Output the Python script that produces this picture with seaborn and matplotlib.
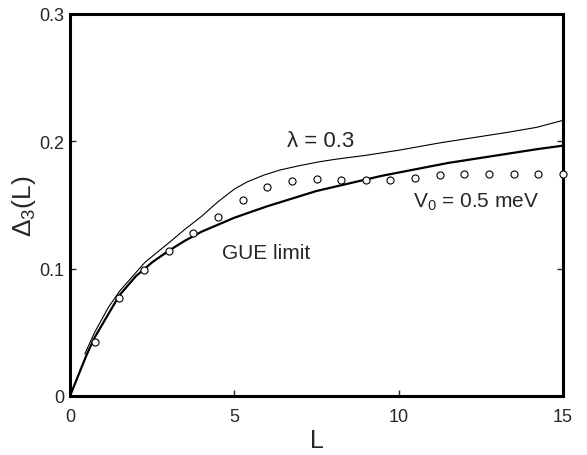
import numpy as np
import pandas as pd
import matplotlib
matplotlib.use("Agg")
import matplotlib.pyplot as plt
import seaborn as sns

# GUE limit (thick line)
gue_L = [0, 0.25, 0.5, 0.75, 1.0, 1.5, 2.0, 2.5, 3.0, 3.5, 4.0, 5.0, 6.0, 6.5, 7.5, 8.5, 9.5, 10.5, 11.5, 12.5, 13.5, 14.25, 15.0]
gue_D = [0, 0.016, 0.032, 0.046, 0.057, 0.079, 0.094, 0.105, 0.114, 0.122, 0.129, 0.140, 0.149, 0.153, 0.161, 0.167, 0.173, 0.178, 0.183, 0.187, 0.191, 0.194, 0.1966]

# lambda = 0.3 (thin line)
lam_L = [0.45, 0.75, 1.17, 1.52, 2.28, 3.04, 3.5, 4.0, 4.5, 5.0, 5.38, 5.9, 6.39, 7.0, 7.6, 8.1, 9.0, 10.0, 11.3, 12.3, 13.3, 14.2, 15.0]
lam_D = [0.033, 0.050, 0.0697, 0.0827, 0.105, 0.121, 0.131, 0.141, 0.1525, 0.1625, 0.168, 0.1735, 0.1775, 0.181, 0.184, 0.186, 0.189, 0.193, 0.199, 0.203, 0.207, 0.211, 0.2165]

# V0 = 0.5 meV (open circles)
v0_L = [0.75, 1.5, 2.25, 3.0, 3.75, 4.5, 5.25, 6.0, 6.75, 7.5, 8.25, 9.0, 9.75, 10.5, 11.25, 12.0, 12.75, 13.5, 14.25, 15.0]
v0_D = [0.0427, 0.0767, 0.0987, 0.1137, 0.128, 0.1405, 0.154, 0.164, 0.169, 0.1705, 0.170, 0.1697, 0.170, 0.1712, 0.1735, 0.1745, 0.1745, 0.1745, 0.1745, 0.1744]

x_ticks = [0, 5, 10, 15]
y_ticks = [0, 0.1, 0.2, 0.3]
y_tick_labels = ["0", "0.1", "0.2", "0.3"]

sns.set_style("white")
plt.rcParams['font.family'] = ['Liberation Sans', 'DejaVu Sans']
plt.rcParams['mathtext.fontset'] = 'custom'
plt.rcParams['mathtext.rm'] = 'Liberation Sans'
plt.rcParams['mathtext.it'] = 'Liberation Sans'

fig = plt.figure(figsize=(5.87, 4.56), dpi=100)
ax = fig.add_axes([70/587, 59/456, 493/587, 382/456])

df_gue = pd.DataFrame({"L": gue_L, "D": gue_D})
df_lam = pd.DataFrame({"L": lam_L, "D": lam_D})
df_v0 = pd.DataFrame({"L": v0_L, "D": v0_D})

sns.lineplot(data=df_gue, x="L", y="D", ax=ax, color="black", linewidth=1.6, sort=True)
sns.lineplot(data=df_lam, x="L", y="D", ax=ax, color="black", linewidth=0.8, sort=True)
sns.scatterplot(data=df_v0, x="L", y="D", ax=ax, marker="o", s=26,
                facecolor="white", edgecolor="black", linewidth=0.8, zorder=3, clip_on=False)

ax.set_xlim(0, 15)
ax.set_ylim(0, 0.3)
ax.set_xticks(x_ticks)
ax.set_xticklabels([str(t) for t in x_ticks], fontsize=13)
ax.set_yticks(y_ticks)
ax.set_yticklabels(y_tick_labels, fontsize=13)
ax.tick_params(axis='x', direction='in', length=4, width=1, pad=9, bottom=True, top=False)
ax.tick_params(axis='y', direction='in', length=4, width=1, pad=4, left=True, right=True)

for s in ax.spines.values():
    s.set_linewidth(2.2)
    s.set_color("black")

ax.set_xlabel("L", fontsize=18, labelpad=2)
ax.set_ylabel(r"$\Delta_3$(L)", fontsize=19, labelpad=1)

ax.text(6.59, 0.1966, "λ = 0.3", fontsize=16, ha="left", va="baseline")
ax.text(10.43, 0.149, r"V$_0$ = 0.5 meV", fontsize=15, ha="left", va="baseline")
ax.text(4.62, 0.1082, "GUE limit", fontsize=15, ha="left", va="baseline")

fig.savefig("out.png", dpi=100)
